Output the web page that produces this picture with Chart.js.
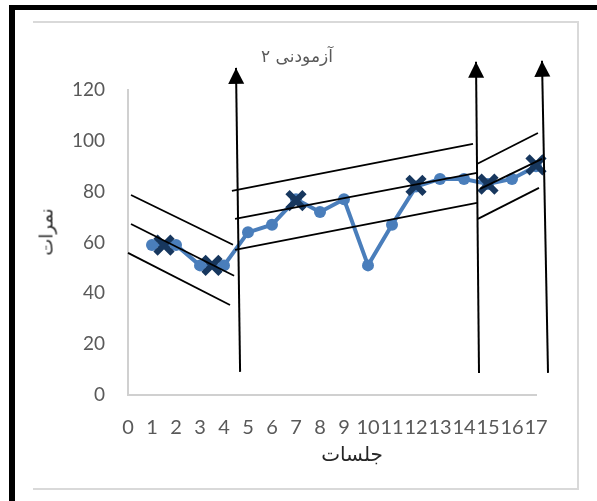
<!DOCTYPE html>
<html>
<head>
<meta charset="utf-8">
<script src="https://cdn.jsdelivr.net/npm/chart.js@4/dist/chart.umd.min.js"></script>
<style>
  html, body { margin: 0; padding: 0; background: #fff; }
  #wrap { position: relative; width: 597px; height: 501px; overflow: hidden; }
  #outer { position: absolute; left: 9px; top: 5px; width: 700px; height: 493px;
           border-top: 5px solid #000; border-left: 6px solid #000; border-bottom: 3px solid #000; box-sizing: content-box; }
  #inner { position: absolute; left: 33px; top: 21px; width: 544px; height: 465px;
           border-top: 2px solid #d9d9d9; border-right: 2px solid #d9d9d9; border-bottom: 2px solid #d9d9d9; }
  canvas { position: absolute; left: 0; top: 0; }
  .txt { position: absolute; font-family: "DejaVu Sans", sans-serif; white-space: nowrap; direction: rtl; }
  #title { left: 297px; top: 56px; transform: translate(-50%, -50%); font-size: 17px; color: #595959; }
  #xtitle { left: 352px; top: 454px; transform: translate(-50%, -50%); font-size: 20px; color: #262626; }
  #ytitle { left: 46px; top: 232px; transform: translate(-50%, -50%) rotate(-90deg); font-size: 18px; color: #262626; }
</style>
</head>
<body>
<div id="wrap">
  <div id="outer"></div>
  <div id="inner"></div>
  <canvas id="c" width="597" height="501"></canvas>
  <div class="txt" id="title">آزمودنی ۲</div>
  <div class="txt" id="xtitle">جلسات</div>
  <div class="txt" id="ytitle">نمرات</div>
</div>
<script>
// ---- data ----
const sessions = [1, 2, 3, 4, 5, 6, 7, 8, 9, 10, 11, 12, 13, 14, 15, 16, 17];
const scores   = [59, 59, 51, 51, 64, 67, 77, 72, 77, 51, 67, 82, 85, 85, 83, 85, 90];
const medianX  = [1.5, 3.5, 7, 12, 15, 17];
const medianY  = [59, 51, 76.5, 82.5, 83, 90.5];
const xTicks   = [0, 1, 2, 3, 4, 5, 6, 7, 8, 9, 10, 11, 12, 13, 14, 15, 16, 17];
const yTicks   = [0, 20, 40, 60, 80, 100, 120];

// trend / band lines per phase: [x0, y0, x1, y1]
const phase1Upper  = [0.125, 78.7, 4.375, 59.1];
const phase1Middle = [0.125, 67.3, 4.42, 46.9];
const phase1Lower  = [0, 55.9, 4.25, 35.4];
const phase2Upper  = [4.33, 80.3, 14.375, 98.8];
const phase2Middle = [4.46, 69.3, 14.54, 87.4];
const phase2Lower  = [4.46, 57.1, 14.54, 75.6];
const phase3Upper  = [14.54, 90.9, 17.08, 103.1];
const phase3Middle = [14.67, 81.1, 17.25, 92.9];
const phase3Lower  = [14.58, 69.3, 17.125, 81.5];
// phase-change arrows: [xBottom, yBottom, xTip, yTip]
const arrow1 = [4.67, 9.1, 4.5, 128.7];
const arrow2 = [14.625, 8.7, 14.5, 131.1];
const arrow3 = [17.5, 8.7, 17.25, 131.5];
const arrows = [arrow1, arrow2, arrow3];

const seg = a => [{x: a[0], y: a[1]}, {x: a[2], y: a[3]}];
const lineDs = (a, w) => ({
  type: 'line', data: seg(a), borderColor: '#000', borderWidth: w,
  pointRadius: 0, clip: false, order: 0, tension: 0
});

const trendSets = [phase1Upper, phase1Middle, phase1Lower, phase2Upper, phase2Middle, phase2Lower,
                   phase3Upper, phase3Middle, phase3Lower].map(a => lineDs(a, 1.8));
const arrowSets = arrows.map(a => lineDs(a, 2));

// arrowheads drawn at the tip of each arrow line, positioned by the chart's scales
const arrowHeads = {
  id: 'arrowHeads',
  afterDatasetsDraw(chart) {
    const {ctx, scales: {x, y}} = chart;
    ctx.save();
    ctx.fillStyle = '#000';
    arrows.forEach(a => {
      const bx = x.getPixelForValue(a[0]), by = y.getPixelForValue(a[1]);
      const tx = x.getPixelForValue(a[2]), ty = y.getPixelForValue(a[3]);
      const ang = Math.atan2(ty - by, tx - bx);
      const len = 16, half = 8;
      const cx = tx - Math.cos(ang) * len, cy = ty - Math.sin(ang) * len;
      const px = -Math.sin(ang), py = Math.cos(ang);
      ctx.beginPath();
      ctx.moveTo(tx, ty);
      ctx.lineTo(cx + px * half, cy + py * half);
      ctx.lineTo(cx - px * half, cy - py * half);
      ctx.closePath();
      ctx.fill();
    });
    ctx.restore();
  }
};

new Chart(document.getElementById('c'), {
  type: 'line',
  data: {
    datasets: [
      ...trendSets,
      ...arrowSets,
      {
        label: 'median', data: medianX.map((x, i) => ({x, y: medianY[i]})),
        showLine: false, pointStyle: 'crossRot', pointRadius: 12, pointBorderWidth: 6,
        pointBorderColor: '#17375e', pointBackgroundColor: '#17375e', order: 1, clip: false
      },
      {
        label: 'scores', data: sessions.map((x, i) => ({x, y: scores[i]})),
        borderColor: '#4a7ebb', backgroundColor: '#4a7ebb', borderWidth: 4,
        pointRadius: 6, pointBackgroundColor: '#4a7ebb', pointBorderColor: '#4a7ebb',
        pointBorderWidth: 0, tension: 0, order: 2, clip: false
      }
    ]
  },
  plugins: [arrowHeads],
  options: {
    responsive: false,
    animation: false,
    events: [],
    layout: { padding: { left: 0, right: 61, top: 90, bottom: 0 } },
    plugins: { legend: { display: false }, tooltip: { enabled: false }, title: { display: false } },
    scales: {
      x: {
        type: 'linear', min: 0, max: 17,
        afterBuildTicks: s => { s.ticks = xTicks.map(v => ({value: v})); },
        afterFit: s => { s.height = 106; },
        grid: { display: false, drawTicks: false },
        border: { display: true, color: '#d0d0d0', width: 2 },
        ticks: { autoSkip: false, maxRotation: 0, padding: 21, color: '#595959',
                 font: { family: 'Lato', size: 20 } }
      },
      y: {
        min: 0, max: 120,
        afterBuildTicks: s => { s.ticks = yTicks.map(v => ({value: v})); },
        afterFit: s => { s.width = 128; },
        grid: { display: false, drawTicks: false },
        border: { display: true, color: '#d0d0d0', width: 2 },
        ticks: { padding: 23, color: '#595959', font: { family: 'Lato', size: 19 } }
      }
    }
  }
});
</script>
</body>
</html>
